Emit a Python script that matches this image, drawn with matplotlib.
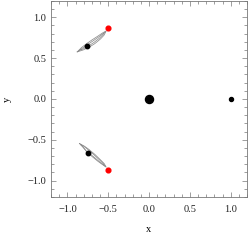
import matplotlib
matplotlib.use("Agg")
import matplotlib.pyplot as plt
from matplotlib.ticker import MultipleLocator

# bodies
primary = (0.0, 0.0)
secondary = (1.0, 0.0)

# L4 / L5 points (red) and start points (black)
red_x = [-0.5, -0.5]
red_y = [0.866, -0.866]
start_x = [-0.755, -0.752]
start_y = [0.650, -0.662]

# tadpole orbit traces, upper (outer + inner loop)
up_outer_x = [-0.880, -0.828, -0.772, -0.700, -0.624, -0.570, -0.524,
              -0.551, -0.595, -0.666, -0.740, -0.806, -0.880]
up_outer_y = [0.576, 0.628, 0.672, 0.722, 0.771, 0.808, 0.833,
              0.781, 0.734, 0.676, 0.630, 0.600, 0.576]
up_inner_x = [-0.858, -0.821, -0.762, -0.690, -0.615, -0.565, -0.535,
              -0.561, -0.605, -0.677, -0.750, -0.813, -0.858]
up_inner_y = [0.593, 0.619, 0.659, 0.708, 0.760, 0.800, 0.822,
              0.790, 0.746, 0.690, 0.643, 0.609, 0.593]

# lower orbit
lo_outer_x = [-0.852, -0.812, -0.769, -0.698, -0.623, -0.569, -0.524,
              -0.549, -0.594, -0.664, -0.737, -0.791, -0.852]
lo_outer_y = [-0.546, -0.587, -0.638, -0.705, -0.766, -0.805, -0.836,
              -0.792, -0.747, -0.679, -0.618, -0.579, -0.546]
lo_inner_x = [-0.833, -0.803, -0.759, -0.688, -0.614, -0.564, -0.535,
              -0.559, -0.604, -0.675, -0.747, -0.799, -0.833]
lo_inner_y = [-0.563, -0.597, -0.651, -0.701, -0.763, -0.803, -0.826,
              -0.793, -0.749, -0.683, -0.621, -0.580, -0.563]

plt.rcParams['font.family'] = ['Liberation Serif', 'DejaVu Serif']
plt.rcParams['font.size'] = 7.5

fig = plt.figure(figsize=(2.49, 2.41), dpi=100)
ax = fig.add_axes([0.205, 0.183, 0.787, 0.813])

orbit_color = '#8c8c8c'
for xs, ys in [(up_outer_x, up_outer_y), (up_inner_x, up_inner_y),
               (lo_outer_x, lo_outer_y), (lo_inner_x, lo_inner_y)]:
    ax.plot(xs, ys, color=orbit_color, lw=0.55)

ax.plot(*primary, 'o', color='black', ms=5.8)
ax.plot(*secondary, 'o', color='black', ms=2.9)
ax.plot(red_x, red_y, 'o', color='red', ms=3.4, ls='none')
ax.plot(start_x, start_y, 'o', color='black', ms=3.2, ls='none')

ax.set_xlim(-1.2, 1.2)
ax.set_ylim(-1.2, 1.2)
ax.xaxis.set_major_locator(MultipleLocator(0.5))
ax.yaxis.set_major_locator(MultipleLocator(0.5))
ax.xaxis.set_minor_locator(MultipleLocator(0.1))
ax.yaxis.set_minor_locator(MultipleLocator(0.1))

frame = '#777777'
for s in ax.spines.values():
    s.set_color(frame)
    s.set_linewidth(0.6)
ax.tick_params(which='both', direction='in', top=True, right=True,
               color=frame, width=0.5, labelcolor='#222222')
ax.tick_params(which='major', length=3.5)
ax.tick_params(which='minor', length=2)
ax.tick_params(axis='x', pad=6)
ax.tick_params(axis='y', pad=3.5)

ax.set_xlabel('x', labelpad=8)
ax.set_ylabel('y', labelpad=11, rotation=90)

fig.savefig('out.png', dpi=100)
